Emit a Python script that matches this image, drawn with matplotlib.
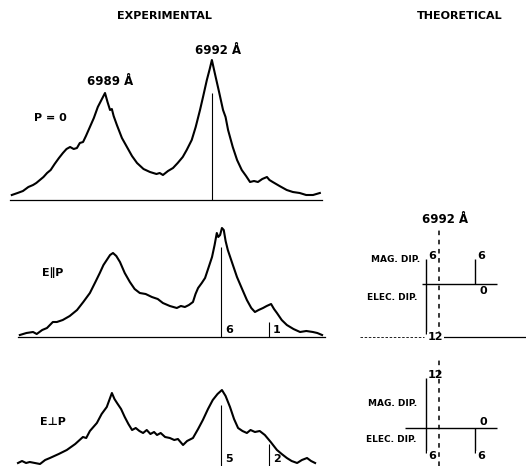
import numpy as np
import matplotlib
matplotlib.use("Agg")
import matplotlib.pyplot as plt

# ---- data ----
# experimental spectra: wavelength (A) vs recorder intensity (arb.)
top_wl = [6986.44, 6986.60, 6986.75, 6986.90, 6987.03, 6987.12, 6987.22, 6987.32, 6987.42, 6987.52,
          6987.63, 6987.75, 6987.86, 6987.96, 6988.06, 6988.16, 6988.25, 6988.33, 6988.42, 6988.50,
          6988.61, 6988.72, 6988.83, 6988.93, 6989.03, 6989.10, 6989.17, 6989.22, 6989.27, 6989.36,
          6989.50, 6989.64, 6989.78, 6989.92, 6990.10, 6990.28, 6990.46, 6990.55, 6990.64, 6990.78,
          6990.92, 6991.05, 6991.19, 6991.30, 6991.44, 6991.55, 6991.67, 6991.76, 6991.86, 6991.94,
          6992.00, 6992.08, 6992.20, 6992.31, 6992.38, 6992.45, 6992.58, 6992.70, 6992.83, 6992.95,
          6993.06, 6993.17, 6993.28, 6993.40, 6993.53, 6993.60, 6993.69, 6993.88, 6994.08, 6994.25,
          6994.44, 6994.62, 6994.81, 6995.00]
top_int = [5, 7, 9, 13, 15, 17, 20, 23, 27, 30,
           36, 42, 47, 51, 53, 51, 52, 57, 58, 64,
           73, 82, 93, 100, 107, 98, 90, 91, 84, 75,
           62, 53, 44, 37, 31, 28, 26, 27, 25, 29,
           32, 37, 43, 50, 60, 73, 90, 104, 120, 131,
           140, 127, 108, 90, 83, 70, 53, 40, 30, 24,
           18, 19, 18, 21, 23, 20, 18, 14, 10, 8,
           7, 5, 5, 7]

par_wl = [6986.49, 6986.67, 6986.85, 6986.95, 6987.10, 6987.23, 6987.39, 6987.50, 6987.66, 6987.85,
          6988.05, 6988.22, 6988.40, 6988.55, 6988.67, 6988.77, 6988.86, 6988.95, 6989.03, 6989.12,
          6989.22, 6989.35, 6989.49, 6989.62, 6989.76, 6989.92, 6990.09, 6990.25, 6990.39, 6990.58,
          6990.77, 6990.88, 6990.99, 6991.10, 6991.21, 6991.28, 6991.35, 6991.45, 6991.54, 6991.64,
          6991.73, 6991.80, 6991.86, 6991.90, 6991.95, 6992.00, 6992.05, 6992.10, 6992.16, 6992.28,
          6992.41, 6992.55, 6992.68, 6992.80, 6992.90, 6993.00, 6993.12, 6993.22, 6993.34, 6993.42,
          6993.50, 6993.63, 6993.77, 6993.95, 6994.13, 6994.30, 6994.48, 6994.60, 6994.73]
par_int = [2, 4, 5, 3, 7, 9, 15, 15, 17, 21,
           27, 35, 44, 55, 64, 72, 77, 82, 84, 81,
           75, 64, 55, 48, 44, 43, 40, 38, 34, 31,
           29, 31, 30, 32, 35, 43, 49, 54, 59, 70,
           80, 92, 104, 100, 102, 109, 107, 96, 87, 74,
           60, 48, 37, 29, 25, 27, 29, 31, 33, 28,
           24, 17, 12, 8, 5, 6, 5, 4, 2]

perp_wl = [6986.44, 6986.55, 6986.66, 6986.76, 6986.90, 6987.04, 6987.18, 6987.31, 6987.55, 6987.77,
           6988.00, 6988.21, 6988.30, 6988.40, 6988.59, 6988.72, 6988.86, 6988.93, 6989.00, 6989.07,
           6989.14, 6989.25, 6989.35, 6989.45, 6989.55, 6989.65, 6989.75, 6989.85, 6989.95, 6990.05,
           6990.15, 6990.23, 6990.33, 6990.45, 6990.58, 6990.70, 6990.80, 6990.94, 6991.05, 6991.21,
           6991.35, 6991.48, 6991.62, 6991.75, 6991.88, 6992.00, 6992.10, 6992.22, 6992.33, 6992.44,
           6992.56, 6992.68, 6992.78, 6992.90, 6993.03, 6993.17, 6993.33, 6993.50, 6993.63, 6993.77,
           6993.90, 6994.05, 6994.18, 6994.32, 6994.43, 6994.54]
perp_int = [3, 5, 3, 4, 3, 2, 6, 8, 12, 16,
            22, 29, 28, 35, 43, 52, 59, 66, 73, 67,
            63, 57, 49, 42, 36, 38, 35, 33, 36, 32,
            34, 31, 33, 29, 28, 26, 27, 21, 25, 28,
            37, 46, 57, 66, 72, 76, 70, 59, 47, 38,
            35, 33, 36, 34, 35, 31, 24, 16, 12, 8,
            5, 3, 6, 8, 5, 3]

# component sticks drawn on the experimental traces
top_stick_wl = [6992.0]
top_stick_h = [107]
par_stick_wl = [6991.97, 6993.28]
par_stick_h = [90, 15]
par_stick_lab = ["6", "1"]
perp_stick_wl = [6991.97, 6993.28]
perp_stick_h = [61, 22]
perp_stick_lab = ["5", "2"]

# theoretical components (relative strengths)
theo_wl = [6991.64, 6993.0]
par_mag = [6, 6]
par_elec = [12, 0]
perp_mag = [12, 0]
perp_elec = [6, 6]

W, H = 526, 466
fig = plt.figure(figsize=(W / 100, H / 100), dpi=100)
plt.rcParams['font.family'] = ['DejaVu Sans']
FW = 'bold'
LW = 1.5


def px_axes(left, top, right, bottom):
    ax = fig.add_axes([left / W, 1 - bottom / H, (right - left) / W, (bottom - top) / H])
    ax.set_axis_off()
    return ax


def ptext(x, y, s, size=7, **kw):
    fig.text(x / W, 1 - y / H, s, fontsize=size, fontweight=FW, ha='center', va='center', **kw)


# ---- experimental ----
ax1 = px_axes(10, 40, 322, 200)
ax1.set_xlim(6986.39, 6995.06)
ax1.set_ylim(0, 160)
ax1.plot(top_wl, top_int, color='black', lw=LW, clip_on=False)
ax1.axhline(0, color='black', lw=0.9, clip_on=False)
ax1.vlines(top_stick_wl, 0, top_stick_h, color='black', lw=0.8)
ax1.annotate("6989 Å", (top_wl[24], top_int[24]), xytext=(5, 5), textcoords='offset pixels',
             ha='center', va='bottom', fontsize=8.5, fontweight=FW)
ax1.annotate("6992 Å", (top_wl[50], top_int[50]), xytext=(6, 3), textcoords='offset pixels',
             ha='center', va='bottom', fontsize=8.5, fontweight=FW)

ax2 = px_axes(18, 207, 325, 337)
ax2.set_xlim(6986.44, 6994.81)
ax2.set_ylim(0, 130)
ax2.plot(par_wl, par_int, color='black', lw=LW, clip_on=False)
ax2.axhline(0, color='black', lw=0.9, clip_on=False)
ax2.vlines(par_stick_wl, 0, par_stick_h, color='black', lw=0.8)
for w, s in zip(par_stick_wl, par_stick_lab):
    ax2.annotate(s, (w, 0), xytext=(4, 2), textcoords='offset pixels',
                 ha='left', va='bottom', fontsize=8, fontweight=FW)

ax3 = px_axes(18, 346, 325, 466)
ax3.set_xlim(6986.44, 6994.81)
ax3.set_ylim(0, 120)
ax3.plot(perp_wl, perp_int, color='black', lw=LW, clip_on=False)
ax3.vlines(perp_stick_wl, 0, perp_stick_h, color='black', lw=0.8)
for w, s in zip(perp_stick_wl, perp_stick_lab):
    ax3.annotate(s, (w, 0), xytext=(4, 2), textcoords='offset pixels',
                 ha='left', va='bottom', fontsize=8, fontweight=FW)

ptext(164, 16, "EXPERIMENTAL", 8)
ptext(460, 16, "THEORETICAL", 8)
ptext(50, 118, "P = 0", 8)
ptext(53, 273, "E\u2225P", 8)
ptext(53, 422, "E\u22a5P", 8)


# ---- theoretical ----
def theo_panel(ax, mag, elec, line_from):
    ax.hlines(0, line_from, 6993.61, color='black', lw=1.0)
    ax.vlines(theo_wl, 0, mag, color='black', lw=1.0)
    ax.vlines(theo_wl, 0, [-e for e in elec], color='black', lw=1.0)
    for w, m, e in zip(theo_wl, mag, elec):
        if m > 0:
            ax.annotate(str(m), (w, m), xytext=(2, 3), textcoords='offset pixels',
                        ha='left', va='center', fontsize=8, fontweight=FW)
        else:
            ax.annotate(str(m), (w, 0), xytext=(5, 6), textcoords='offset pixels',
                        ha='left', va='center', fontsize=8, fontweight=FW)
        if e > 0:
            ax.annotate(str(e), (w, -e), xytext=(2, -3), textcoords='offset pixels',
                        ha='left', va='center', fontsize=8, fontweight=FW,
                        bbox=dict(fc='white', ec='none', pad=0.5))
        else:
            ax.annotate(str(e), (w, 0), xytext=(5, -7), textcoords='offset pixels',
                        ha='left', va='center', fontsize=8, fontweight=FW)


ax4 = px_axes(360, 215, 526, 345)
ax4.set_xlim(6989.81, 6994.42)
ax4.set_ylim(-14.52, 16.43)
ax4.plot([6989.81, 6991.6], [-12.6, -12.6], color='black', lw=0.6, ls=(0, (3, 2)))
ax4.plot([6992.05, 6994.42], [-12.6, -12.6], color='black', lw=0.9)
ax4.vlines(6992.0, -12.3, 13.0, color='black', lw=1.1, linestyles=(0, (3, 3)))
theo_panel(ax4, par_mag, par_elec, 6991.53)
ax4.annotate("6992 Å", (6992.0, 13.0), xytext=(6, 3), textcoords='offset pixels',
             ha='center', va='bottom', fontsize=8.5, fontweight=FW)
ptext(396, 259, "MAG. DIP.", 6.5)
ptext(392, 297, "ELEC. DIP.", 6.5)

ax5 = px_axes(360, 350, 526, 466)
ax5.set_xlim(6989.81, 6994.42)
ax5.set_ylim(-9.05, 18.57)
ax5.vlines(6992.0, -9.05, 16.5, color='black', lw=1.1, linestyles=(0, (3, 3)))
theo_panel(ax5, perp_mag, perp_elec, 6991.06)
ptext(393, 404, "MAG. DIP.", 6.5)
ptext(391, 439, "ELEC. DIP.", 6.5)

fig.savefig("out.png", dpi=100, facecolor='white')
